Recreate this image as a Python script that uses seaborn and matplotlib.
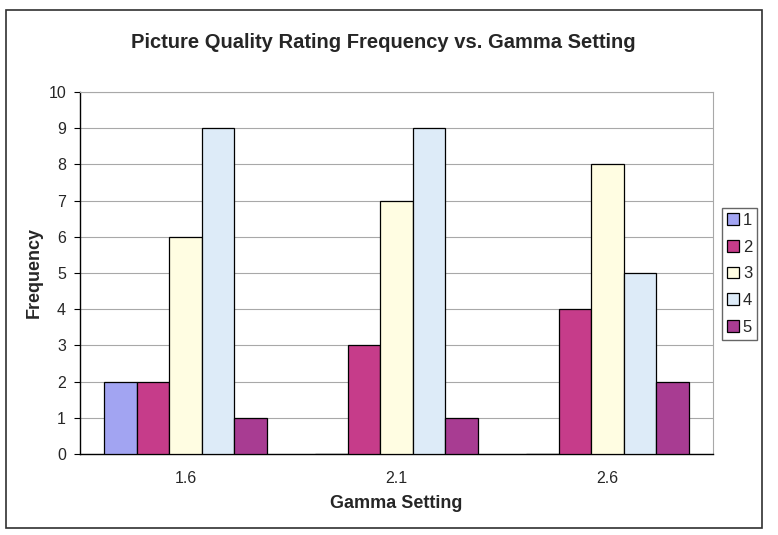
import pandas as pd
import seaborn as sns
import matplotlib.pyplot as plt
from matplotlib.patches import Rectangle

# data
gamma = ['1.6', '2.1', '2.6']
ratings = ['1', '2', '3', '4', '5']
freq_1 = [2, 0, 0]
freq_2 = [2, 3, 4]
freq_3 = [6, 7, 8]
freq_4 = [9, 9, 5]
freq_5 = [1, 1, 2]

rows = []
for r, vals in zip(ratings, [freq_1, freq_2, freq_3, freq_4, freq_5]):
    for g, v in zip(gamma, vals):
        rows.append({'Gamma Setting': g, 'Rating': r, 'Frequency': v})
df = pd.DataFrame(rows)

colors = ['#A2A4F2', '#C63C8A', '#FFFDE2', '#DDEBF8', '#A83C92']

sns.set_style('white')
plt.rcParams['font.family'] = ['Liberation Sans', 'DejaVu Sans']

fig = plt.figure(figsize=(7.78, 5.35), dpi=100)
ax = fig.add_axes([80 / 778, 1 - 454 / 535, 633 / 778, 362 / 535])

sns.barplot(data=df, x='Gamma Setting', y='Frequency', hue='Rating',
            hue_order=ratings, order=gamma, palette=colors, width=0.77,
            edgecolor='black', linewidth=0.9, saturation=1, ax=ax, zorder=3)

ax.set_xlim(-0.5, 2.5)
ax.set_ylim(0, 10)
ax.set_yticks(range(0, 11))
ax.yaxis.grid(True, color='#A8A8A8', linewidth=0.8, zorder=0)
ax.set_axisbelow(True)

# category boundaries for x ticks (Excel style)
ax.set_xticks([-0.5, 0.5, 1.5, 2.5], minor=True)
ax.tick_params(axis='x', which='major', length=0, labelsize=11.5, pad=12)
ax.tick_params(axis='x', which='minor', length=4, direction='out', color='black')
ax.tick_params(axis='y', length=4, direction='out', color='black', labelsize=11.5,
               left=True, pad=6)

for s in ['top', 'right']:
    ax.spines[s].set_color('#A8A8A8')
    ax.spines[s].set_linewidth(0.8)
for s in ['left', 'bottom']:
    ax.spines[s].set_color('black')
    ax.spines[s].set_linewidth(1.0)

ax.set_xlabel('Gamma Setting', fontsize=13, fontweight='bold', labelpad=7)
ax.set_ylabel('Frequency', fontsize=13, fontweight='bold', labelpad=4)
fig.text(383 / 778, 1 - 42 / 535, 'Picture Quality Rating Frequency vs. Gamma Setting',
         ha='center', va='center', fontsize=14.5, fontweight='bold')

leg = ax.legend(loc='upper left', bbox_to_anchor=((722 - 80) / 633, (454 - 208) / 362),
                frameon=True, fancybox=False, edgecolor='#404040', fontsize=12,
                handlelength=0.7, handleheight=0.7, handletextpad=0.25,
                borderpad=0.3, borderaxespad=0, labelspacing=0.7)
leg.get_frame().set_linewidth(1.0)

# outer chart border
fig.patches.append(Rectangle((6 / 778, 1 - 528 / 535), 756 / 778, 518 / 535,
                             transform=fig.transFigure, fill=False,
                             edgecolor='#303030', linewidth=1.2))

fig.savefig('out.png', dpi=100)
